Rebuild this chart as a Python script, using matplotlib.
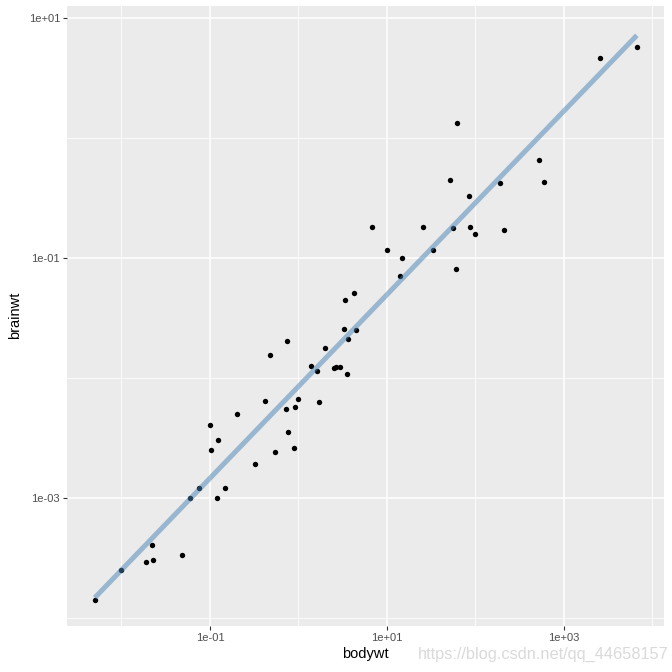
import matplotlib
matplotlib.use("Agg")
import matplotlib.pyplot as plt
import numpy as np

plt.rcParams['font.family'] = ['Liberation Sans', 'DejaVu Sans']

# msleep: body weight vs brain weight
bodywt = [0.005, 0.01, 0.019, 0.023, 0.022, 0.048, 0.06, 0.075, 0.12, 0.148,
          0.101, 0.104, 0.122, 0.2, 0.32, 0.42, 0.55, 0.728, 0.77, 0.9, 0.92, 1.0, 1.7,
          4.23, 3.38, 0.743, 0.48, 3.3, 4.5, 3.6, 2.0, 1.4, 1.62, 2.5, 2.625, 2.95, 3.5,
          6.8, 10, 14.8, 14.0, 25.235, 33.5, 55.5, 86.25, 100, 207.5, 60,
          62, 52.2, 85, 187, 521, 600, 2547, 6654]
brainwt = [0.00014, 0.00025, 0.00029, 0.0003, 0.0004, 0.00033, 0.001, 0.0012, 0.001, 0.0012,
           0.004, 0.0025, 0.003, 0.005, 0.0019, 0.0064, 0.0024, 0.0055, 0.0035, 0.0026, 0.0057, 0.0066, 0.0063,
           0.0504, 0.0445, 0.02, 0.0155, 0.0256, 0.025, 0.021, 0.0175, 0.0125, 0.0114, 0.0121, 0.01227, 0.0123, 0.0108,
           0.179, 0.115, 0.0982, 0.07, 0.18, 0.115, 0.175, 0.18, 0.157, 0.169, 0.081,
           1.32, 0.44, 0.325, 0.419, 0.655, 0.423, 4.603, 5.712]

x_breaks = [1e-1, 1e1, 1e3]
y_breaks = [1e-3, 1e-1, 1e1]
x_minor = [1e-2, 1e0, 1e2, 1e4]
y_minor = [1e-4, 1e-2, 1e0]

fig = plt.figure(figsize=(6.72, 6.72), dpi=100)
ax = fig.add_axes([67 / 672, 1 - 626 / 672, 597 / 672, 620.5 / 672])
ax.set_facecolor('#EBEBEB')
ax.set_xscale('log')
ax.set_yscale('log')
ax.set_xlim(10 ** -2.615, 10 ** 4.13)
ax.set_ylim(10 ** -4.07, 10 ** 1.1)

for v in x_minor:
    ax.axvline(v, color='white', lw=0.55, zorder=0)
for v in y_minor:
    ax.axhline(v, color='white', lw=0.55, zorder=0)
for v in x_breaks:
    ax.axvline(v, color='white', lw=1.1, zorder=0)
for v in y_breaks:
    ax.axhline(v, color='white', lw=1.1, zorder=0)

ax.scatter(bodywt, brainwt, s=15, color='black', zorder=2, linewidths=0)

# linear fit in log-log space
lx = np.log10(bodywt)
ly = np.log10(brainwt)
slope, icept = np.polyfit(lx, ly, 1)
xs = np.array([lx.min(), lx.max()])
ax.plot(10 ** xs, 10 ** (icept + slope * xs), color='steelblue', alpha=0.5,
        lw=3.6, solid_capstyle='butt', zorder=3)

ax.set_xticks(x_breaks)
ax.set_xticklabels(['1e-01', '1e+01', '1e+03'])
ax.set_yticks(y_breaks)
ax.set_yticklabels(['1e-03', '1e-01', '1e+01'])
ax.minorticks_off()
ax.tick_params(length=3, width=0.8, color='#333333', labelcolor='#4D4D4D',
               labelsize=8, pad=2)
for s in ax.spines.values():
    s.set_visible(False)

ax.set_xlabel('bodywt', fontsize=10.5, labelpad=3)
ax.set_ylabel('brainwt', fontsize=10.5, labelpad=5)

fig.text(0.995, 0.026, 'https://blog.csdn.net/qq_44658157', ha='right', va='center',
         fontsize=11.8, color='#DADADA')

fig.savefig('out.png', dpi=100, facecolor='white')
